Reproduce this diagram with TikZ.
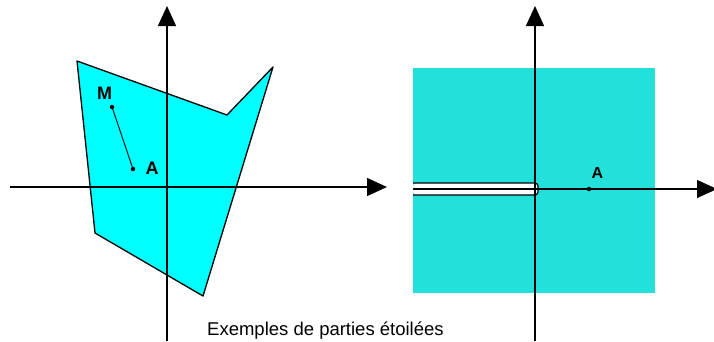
\documentclass[tikz,border=0pt]{standalone}
\usepackage{fontspec}
\setmainfont{Liberation Sans}
\usetikzlibrary{arrows.meta}
\definecolor{cyanleft}{RGB}{0,255,255}
\definecolor{cyanright}{RGB}{34,224,218}

\begin{document}
\begin{tikzpicture}[x=1pt, y=-1pt, line join=round,
    axis/.style={line width=1.3pt, -{Triangle[length=20pt,width=18pt]}},
    dot/.style={fill, circle, inner sep=0pt, minimum size=4.5pt},
    lbl/.style={font=\fontsize{18}{20}\selectfont\bfseries, inner sep=0pt}]
    \useasboundingbox (0,0) rectangle (714,341);
    % first part: star shaped polygon
    \filldraw[fill=cyanleft, line width=1.3pt] (77,61) -- (227,115) -- (273,67)
        -- (203,296) -- (95,233) -- cycle;
    \coordinate (M) at (112,107); \coordinate (A) at (133,169);
    \draw[line width=0.9pt] (M) -- (A);
    \node[dot] at (M) {}; \node[dot] at (A) {};
    \node[lbl] (labM) at (104.5,93.5) {M};
    \node[lbl] (labA) at (152,168.5) {A};
    \draw[axis] (10,187) -- (387,187);
    \draw[axis] (167,341) -- (167,6);
    % second part: plane without a half line
    \fill[cyanright] (413,68) rectangle (655,293);
    \fill[white, rounded corners=3pt] (413,183) -- (538,183) -- (538,195) -- (413,195) -- cycle;
    \draw[line width=1.2pt, rounded corners=3pt] (413,183) -- (538,183) -- (538,195) -- (413,195);
    \draw[axis] (413,189) -- (717,189);
    \draw[axis] (535,341) -- (535,6);
    \coordinate (B) at (589,189);
    \node[dot] at (B) {};
    \node[lbl, font=\fontsize{16}{18}\selectfont\bfseries] (labB) at (597.5,173) {A};
    \node[anchor=base west, inner sep=0pt, font=\fontsize{18.5}{20}\selectfont] (caption)
        at (207,335) {Exemples de parties étoilées};
\end{tikzpicture}
\end{document}
